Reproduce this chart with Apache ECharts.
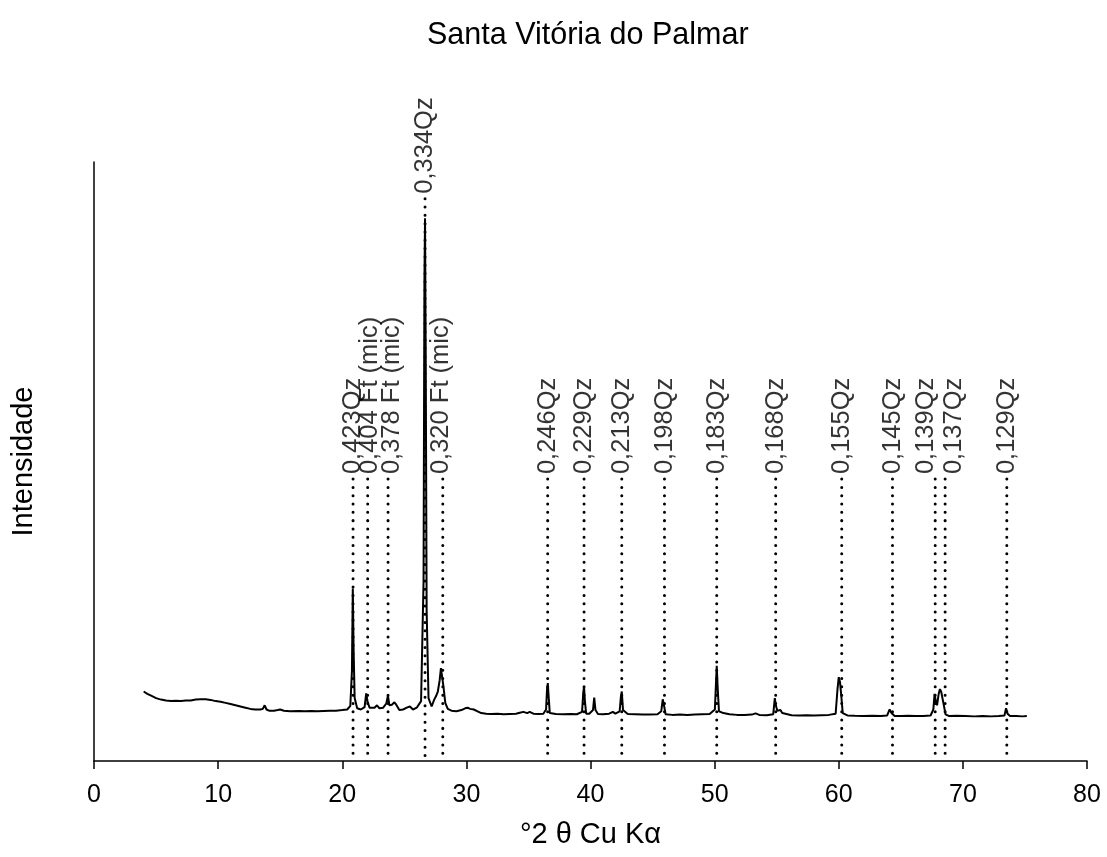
<!DOCTYPE html>
<html>
<head>
<meta charset="utf-8">
<script src="https://cdn.jsdelivr.net/npm/echarts@6/dist/echarts.min.js"></script>
<style>html,body{margin:0;padding:0;background:#fff}#c{width:1107px;height:857px}</style>
</head>
<body>
<div id="c"></div>
<script>
// Diffractogram (°2θ vs intensity, arbitrary units)
const twoTheta = [4.0,4.3,4.6,5.0,5.4,5.8,6.2,6.6,7.0,7.4,7.8,8.2,8.6,9.0,9.4,9.8,10.2,10.6,11.0,11.4,11.8,12.2,12.6,13.0,13.4,13.6,13.75,13.9,14.1,14.5,14.8,15.0,15.3,15.8,16.5,17.0,17.5,18.0,18.5,19.0,19.5,20.0,20.4,20.65,20.78,20.85,20.92,21.0,21.2,21.5,21.8,21.93,22.05,22.2,22.3,22.6,22.8,23.0,23.3,23.55,23.68,23.8,24.0,24.2,24.35,24.6,24.9,25.2,25.45,25.7,26.0,26.35,26.55,26.62,26.67,26.72,26.8,26.95,27.2,27.4,27.55,27.7,27.85,27.95,28.05,28.15,28.3,28.5,28.8,29.2,29.6,29.9,30.1,30.3,30.6,30.9,31.2,31.35,31.6,32.0,32.5,33.0,33.5,34.0,34.3,34.6,34.9,35.1,35.4,35.8,36.2,36.42,36.5,36.56,36.62,36.72,37.2,37.8,38.4,38.9,39.32,39.42,39.48,39.55,39.65,39.9,40.2,40.3,40.4,40.6,41.0,41.5,41.8,42.0,42.35,42.45,42.52,42.62,43.0,43.6,44.2,44.8,45.4,45.7,45.82,45.92,46.05,46.6,47.2,47.8,48.4,49.0,49.6,50.02,50.12,50.17,50.25,50.35,50.7,51.2,51.8,52.4,53.0,53.3,53.6,54.2,54.72,54.85,54.93,55.05,55.3,55.45,55.6,56.2,56.8,57.4,58.0,58.6,59.2,59.75,59.9,60.0,60.1,60.2,60.32,60.7,61.3,62.0,62.7,63.4,63.9,64.1,64.25,64.5,65.0,65.6,66.2,66.8,67.4,67.62,67.72,67.82,67.92,68.05,68.15,68.25,68.35,68.45,68.6,68.9,69.5,70.2,70.9,71.6,72.3,72.9,73.35,73.48,73.6,73.8,74.3,74.8,75.15];
const intensity = [11.6,11.2,10.9,10.5,10.25,10.1,10.0,10.05,10.0,10.1,10.1,10.25,10.3,10.3,10.2,10.0,9.9,9.7,9.5,9.3,9.1,8.9,8.7,8.6,8.6,8.7,9.3,8.6,8.4,8.4,8.5,8.6,8.4,8.3,8.35,8.3,8.35,8.3,8.35,8.4,8.4,8.5,8.6,9.2,15.0,28.8,18.0,10.5,8.8,8.6,9.0,11.3,9.8,8.9,8.7,8.9,9.3,8.8,8.9,9.6,10.9,9.3,9.4,9.8,9.4,8.5,8.6,8.9,9.1,8.6,8.9,10.0,30.0,80.0,90.6,70.0,25.0,10.5,9.1,10.2,10.8,11.6,13.5,15.5,14.0,12.5,9.7,8.7,8.4,8.3,8.5,8.8,8.9,8.7,8.6,8.3,8.0,8.2,7.9,7.85,7.9,7.8,7.85,7.9,8.05,8.2,8.0,8.2,7.9,7.85,7.9,8.6,12.0,13.0,11.0,8.0,7.85,7.8,7.85,7.8,8.2,11.5,12.4,10.0,7.9,7.9,8.5,10.6,8.5,7.85,7.8,7.9,8.2,7.9,8.3,10.8,11.6,8.5,7.85,7.8,7.75,7.75,7.8,8.3,10.3,9.3,7.8,7.7,7.75,7.7,7.75,7.8,7.85,8.6,13.5,15.9,12.0,8.3,8.0,7.8,7.7,7.7,7.75,7.95,7.7,7.65,7.8,10.5,9.3,8.4,8.5,8.0,7.8,7.65,7.6,7.65,7.6,7.65,7.7,7.9,12.0,14.0,13.2,11.0,8.0,7.6,7.55,7.5,7.55,7.5,7.6,8.6,8.0,7.5,7.5,7.55,7.5,7.5,7.6,8.6,11.2,10.0,9.3,11.2,12.0,11.6,11.9,9.5,7.8,7.5,7.55,7.5,7.45,7.5,7.45,7.5,7.6,8.8,7.9,7.5,7.5,7.45,7.5];

// Identified reflections (d-spacing in nm, mineral)
const peakPos = [20.87,22.05,23.69,26.67,28.1,36.55,39.48,42.52,45.96,50.17,54.92,60.24,64.33,67.77,68.57,73.54];
const peakLabels = ['0,423Qz','0,404 Ft (mic)','0,378 Ft (mic)','0,334Qz','0,320 Ft (mic)','0,246Qz','0,229Qz','0,213Qz','0,198Qz','0,183Qz','0,168Qz','0,155Qz','0,145Qz','0,139Qz','0,137Qz','0,129Qz'];
const xTicks = [0,10,20,30,40,50,60,70,80];

const FONT = "'Liberation Sans', Arial, sans-serif";
const curve = twoTheta.map((x, i) => [x, intensity[i]]);
// label baseline: the strongest reflection gets its label above the peak
const labelLevel = peakPos.map((x, i) => peakLabels[i] === '0,334Qz' ? 94.2 : 47.4);
// small horizontal nudges so neighbouring labels do not collide (pixels)
const nudge = {'0,378 Ft (mic)': 4, '0,320 Ft (mic)': -2, '0,139Qz': -9, '0,137Qz': 9, '0,404 Ft (mic)': 2};

const chart = echarts.init(document.getElementById('c'), null, {renderer: 'canvas'});
chart.setOption({
  animation: false,
  backgroundColor: '#fff',
  title: {
    text: 'Santa Vitória do Palmar',
    left: 422, top: 15,
    textStyle: {fontFamily: FONT, fontSize: 30.5, fontWeight: 'normal', color: '#000'}
  },
  grid: {left: 94, right: 20, top: 162, bottom: 96},
  xAxis: {
    type: 'value', min: xTicks[0], max: xTicks[xTicks.length - 1], interval: 10,
    name: '°2 θ Cu Kα', nameLocation: 'middle', nameGap: 59,
    nameTextStyle: {fontFamily: FONT, fontSize: 29, color: '#000'},
    axisLine: {lineStyle: {color: '#000', width: 1.5}},
    axisTick: {length: 8, lineStyle: {color: '#000', width: 1.5}},
    axisLabel: {margin: 22, fontFamily: FONT, fontSize: 25, color: '#000'},
    splitLine: {show: false}
  },
  yAxis: {
    type: 'value', min: 0, max: 100,
    name: 'Intensidade', nameLocation: 'middle', nameGap: 56, nameRotate: 90,
    nameTextStyle: {fontFamily: FONT, fontSize: 29, color: '#000'},
    axisLine: {show: true, lineStyle: {color: '#000', width: 1.5}},
    axisTick: {show: false},
    axisLabel: {show: false},
    splitLine: {show: false}
  },
  series: [
    {
      type: 'line', data: curve, showSymbol: false, symbol: 'none',
      lineStyle: {color: '#000', width: 2}, z: 3, silent: true
    },
    {
      // dotted drop lines from each label down to the x axis
      type: 'custom', silent: true, z: 2,
      data: peakPos.map((x, i) => [x, labelLevel[i]]),
      renderItem: (params, api) => {
        const top = api.coord([api.value(0), api.value(1)]);
        const bot = api.coord([api.value(0), 0]);
        return {
          type: 'line',
          shape: {x1: top[0], y1: top[1] + 2, x2: bot[0], y2: bot[1]},
          style: {stroke: '#000', lineWidth: 3, lineDash: [0.01, 8.3], lineCap: 'round', fill: null}
        };
      }
    },
    {
      type: 'scatter', symbolSize: 0, silent: true, z: 4,
      data: peakPos.map((x, i) => ({
        value: [x, labelLevel[i]], name: peakLabels[i],
        label: {position: [nudge[peakLabels[i]] || 0, -3]}
      })),
      label: {
        show: true, formatter: p => p.name, rotate: 90,
        align: 'left', verticalAlign: 'middle',
        fontFamily: FONT, fontSize: 25.5, color: '#000'
      }
    }
  ]
});
</script>
</body>
</html>
